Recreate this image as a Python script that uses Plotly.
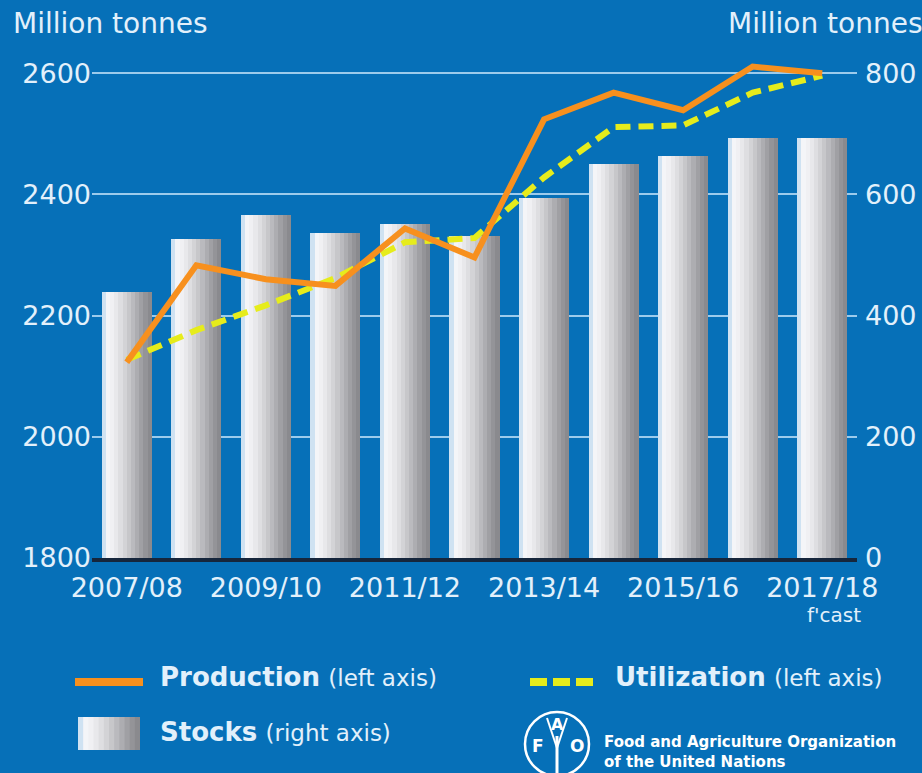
import plotly.graph_objects as go

# ---------------- data ----------------
seasons = ["2007/08", "2008/09", "2009/10", "2010/11", "2011/12", "2012/13",
           "2013/14", "2014/15", "2015/16", "2016/17", "2017/18"]
production = [2123, 2283, 2260, 2249, 2344, 2296, 2524, 2568, 2539, 2611, 2600]
utilization = [2127, 2176, 2217, 2262, 2321, 2328, 2428, 2511, 2514, 2568, 2596]
stocks = [439, 526, 566, 536, 552, 531, 594, 651, 663, 693, 693]
x_tick_labels = ["2007/08", "2009/10", "2011/12", "2013/14", "2015/16", "2017/18"]
left_ticks = [1800, 2000, 2200, 2400, 2600]
right_ticks = [0, 200, 400, 600, 800]

# ---------------- style ----------------
BG = "#0670b8"
TXT = "#e2f0fb"
ORANGE = "#f7901e"
YELLOW = "#e6ec1c"
GRID = "#9ccbec"
FONT = "DejaVu Sans"
bar_shades = ["#cfe2f2", "#f4f5f8", "#f0f0f3", "#e8e8eb", "#dedee1", "#d3d3d6",
              "#c7c7ca", "#bababe", "#adadb1", "#a0a0a4", "#949498", "#8a8a8e"]

W, H = 922, 773
ML, MR, MT, MB = 92, 65, 49, 215
PW, PH = W - ML - MR, H - MT - MB


def px(x):
    return (x - ML) / PW


def py(y):
    return (H - MB - y) / PH


fig = go.Figure()

# bars (stocks, right axis) built of vertical slices for the shaded look
bar_w = 0.72
n = len(bar_shades)
for k, c in enumerate(bar_shades):
    sw = bar_w / n
    fig.add_bar(x=seasons, y=stocks, yaxis="y",
                width=sw * (1.35 if k < n - 1 else 1.0),
                offset=-bar_w / 2 + k * sw,
                marker=dict(color=c, line_width=0),
                showlegend=False, hoverinfo="skip")

# lines (left axis)
fig.add_scatter(x=seasons, y=utilization, yaxis="y2", mode="lines",
                line=dict(color=YELLOW, width=6, dash="15px,8px"),
                showlegend=False, hoverinfo="skip")
fig.add_scatter(x=seasons, y=production, yaxis="y2", mode="lines",
                line=dict(color=ORANGE, width=6),
                showlegend=False, hoverinfo="skip")

fig.update_layout(
    width=W, height=H,
    margin=dict(l=ML, r=MR, t=MT, b=MB, autoexpand=False),
    paper_bgcolor=BG, plot_bgcolor=BG,
    barmode="overlay", bargap=0,
    font=dict(family=FONT, color=TXT, size=27),
    showlegend=False,
    xaxis=dict(type="category", range=[-0.5, 10.5], tickmode="array",
               tickvals=x_tick_labels, ticktext=x_tick_labels,
               showgrid=False, zeroline=False, showline=True,
               linecolor="#16263c", linewidth=4, ticks="",
               ticklabelstandoff=3, automargin=False,
               tickfont=dict(size=27, color=TXT)),
    yaxis=dict(side="right", range=[0, 840], tickmode="array",
               tickvals=right_ticks, showgrid=True, gridcolor=GRID,
               gridwidth=2, zeroline=False, showline=False, ticks="",
               ticklabelstandoff=7, automargin=False,
               tickfont=dict(size=27, color=TXT)),
    yaxis2=dict(side="left", overlaying="y", range=[1800, 2640],
                tickmode="array", tickvals=left_ticks, showgrid=False,
                zeroline=False, showline=False, ticks="",
                ticklabelstandoff=0, automargin=False,
                tickfont=dict(size=27, color=TXT)),
)

ann = []
# axis titles
ann.append(dict(x=px(11), y=py(24), text="Million tonnes", xanchor="left",
                yanchor="middle", font=dict(size=28, color=TXT)))
ann.append(dict(x=px(924), y=py(24), text="Million tonnes", xanchor="right",
                yanchor="middle", font=dict(size=28, color=TXT)))
ann.append(dict(x=px(834), y=py(615), text="f'cast", xanchor="center",
                yanchor="middle", font=dict(size=20, color=TXT)))

# legend texts
ann.append(dict(x=px(158), y=py(677),
                text="<b>Production</b> <span style='font-size:23px'>(left axis)</span>",
                xanchor="left", yanchor="middle", font=dict(size=26, color=TXT)))
ann.append(dict(x=px(613), y=py(677),
                text="<b>Utilization</b> <span style='font-size:23px'>(left axis)</span>",
                xanchor="left", yanchor="middle", font=dict(size=26, color=TXT)))
ann.append(dict(x=px(158), y=py(732),
                text="<b>Stocks</b> <span style='font-size:23px'>(right axis)</span>",
                xanchor="left", yanchor="middle", font=dict(size=26, color=TXT)))
ann.append(dict(x=px(602), y=py(752),
                text="<b>Food and Agriculture Organization</b><br><b>of the United Nations</b>",
                xanchor="left", yanchor="middle", align="left",
                font=dict(size=15, color="#ffffff")))
# FAO logo letters
for t, xx, yy, s in [("F", 538, 746, 17), ("A", 557, 724, 16), ("O", 577, 746, 17)]:
    ann.append(dict(x=px(xx), y=py(yy), text="<b>" + t + "</b>", xanchor="center",
                    yanchor="middle", font=dict(size=s, color="#ffffff")))
for a in ann:
    a.update(xref="paper", yref="paper", showarrow=False)
fig.update_layout(annotations=ann)

shapes = []
# production legend line
shapes.append(dict(type="line", x0=px(75), x1=px(143), y0=py(682), y1=py(682),
                   line=dict(color=ORANGE, width=8)))
# utilization legend dashes
for x0 in (530, 553, 576):
    shapes.append(dict(type="line", x0=px(x0), x1=px(x0 + 17), y0=py(682), y1=py(682),
                       line=dict(color=YELLOW, width=8)))
# stocks legend box (shaded slices)
bx0, bx1 = 78, 140
sw = (bx1 - bx0) / n
for k, c in enumerate(bar_shades):
    shapes.append(dict(type="rect", x0=px(bx0 + k * sw),
                       x1=px(bx0 + (k + 1.3) * sw if k < n - 1 else bx1),
                       y0=py(750), y1=py(717), fillcolor=c, line=dict(width=0)))
# FAO logo circle and wheat stem
shapes.append(dict(type="circle", x0=px(525), x1=px(589), y0=py(776), y1=py(712),
                   line=dict(color="#ffffff", width=2.5)))
shapes.append(dict(type="line", x0=px(557), x1=px(557), y0=py(736), y1=py(773),
                   line=dict(color="#ffffff", width=3)))
shapes.append(dict(type="line", x0=px(547), x1=px(557), y0=py(718), y1=py(748),
                   line=dict(color="#ffffff", width=2)))
shapes.append(dict(type="line", x0=px(567), x1=px(557), y0=py(718), y1=py(748),
                   line=dict(color="#ffffff", width=2)))
for s in shapes:
    s.update(xref="paper", yref="paper")
fig.update_layout(shapes=shapes)

fig.write_html("out.html",
               config={"displayModeBar": False},
               post_script="document.body.style.margin='0';"
                           "document.body.style.overflow='hidden';")
